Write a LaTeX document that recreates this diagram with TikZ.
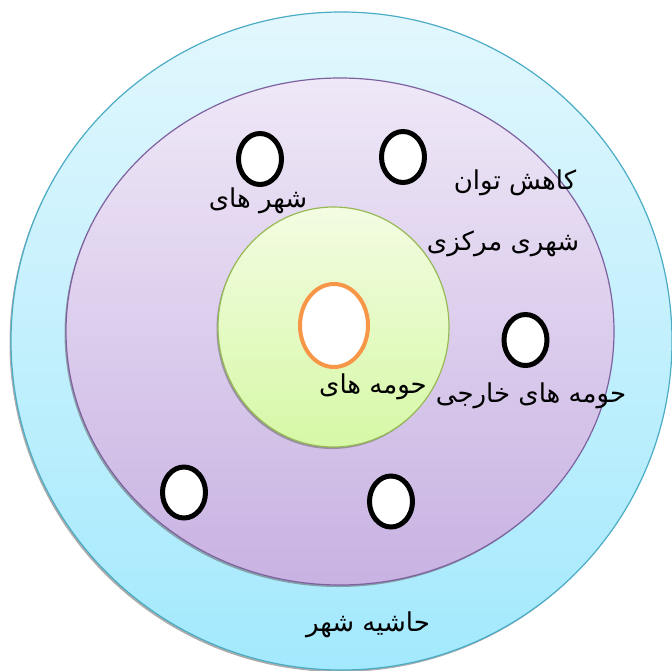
\documentclass[tikz,border=0pt]{standalone}
\usepackage{fontspec}
\usetikzlibrary{shapes.geometric,shadows}
\TeXXeTstate=1
\newfontfamily\arabicfont[Script=Arabic]{DejaVu Sans}
\definecolor{outerTop}{HTML}{E2F7FD}
\definecolor{outerBot}{HTML}{A3E9FD}
\definecolor{outerLine}{HTML}{4BACC6}
\definecolor{purpTop}{HTML}{EFE8F7}
\definecolor{purpBot}{HTML}{C8B2E2}
\definecolor{purpLine}{HTML}{7E62A0}
\definecolor{grnTop}{HTML}{F3FCE2}
\definecolor{grnBot}{HTML}{D6F8A6}
\definecolor{grnLine}{HTML}{98BA56}
\definecolor{orangeLine}{HTML}{F79646}
\tikzset{
  ring/.style={ellipse, inner sep=0pt, outer sep=0pt, line width=1.2pt},
  ringshadow/.style={drop shadow={shadow xshift=-1.5pt, shadow yshift=-2pt, opacity=0.55, fill=gray!80!black}},
  town/.style={ellipse, inner sep=0pt, outer sep=0pt, draw=black, fill=white, line width=5pt, minimum width=43pt, minimum height=51pt},
  lbl/.style={inner sep=1pt, font=\arabicfont\fontsize{26}{30}\selectfont, text=black}
}
\begin{document}
\begin{tikzpicture}[x=1pt,y=-1pt]
\useasboundingbox (0,0) rectangle (672,670);
\node[ring, ringshadow, draw=outerLine, top color=outerTop, bottom color=outerBot, minimum width=661pt, minimum height=658pt] (outer) at (341.5,341) {};
\node[ring, ringshadow, draw=purpLine, top color=purpTop, bottom color=purpBot, minimum width=548pt, minimum height=507pt] (purple) at (340,331.5) {};
\node[ring, ringshadow, draw=grnLine, top color=grnTop, bottom color=grnBot, minimum width=231pt, minimum height=240pt] (green) at (333.5,327) {};
\node[ellipse, inner sep=0pt, draw=orangeLine, fill=white, line width=4pt, minimum width=68pt, minimum height=83pt] (core) at (334,325.5) {};
\node[town] (t1) at (260,159) {};
\node[town] (t2) at (403,157) {};
\node[town] (t3) at (525.5,340) {};
\node[town] (t4) at (184,492.5) {};
\node[town] (t5) at (391,501.5) {};
\node[lbl] (l1) at (258,201) {\beginR شهر های\endR};
\node[lbl] (l2) at (515,183) {\beginR کاهش توان\endR};
\node[lbl] (l3) at (503,244) {\beginR شهری مرکزی\endR};
\node[lbl] (l4) at (373,387) {\beginR حومه های\endR};
\node[lbl] (l5) at (531,396) {\beginR حومه های خارجی\endR};
\node[lbl] (l6) at (368,625) {\beginR حاشیه شهر\endR};
\end{tikzpicture}
\end{document}
